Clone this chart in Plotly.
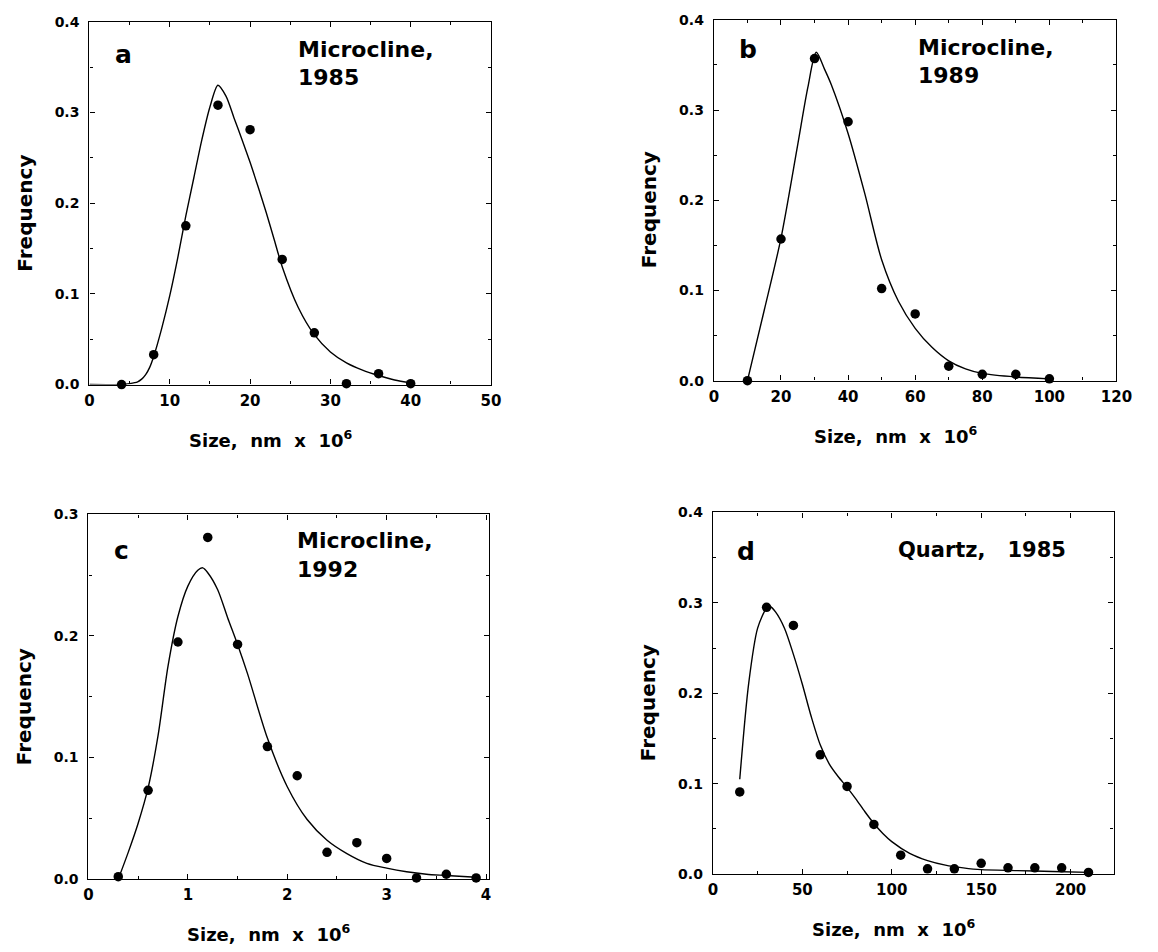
import plotly.graph_objects as go

W, H = 1158, 952

# ---------------- data ----------------
a_x = [4, 8, 12, 16, 20, 24, 28, 32, 36, 40]
a_y = [0.0, 0.033, 0.175, 0.308, 0.281, 0.138, 0.057, 0.001, 0.012, 0.001]
a_fit_x = [0, 4, 5, 6, 6.5, 7, 7.5, 8, 9, 10, 11, 12, 13, 14, 15, 16, 17, 18, 19, 20, 21, 22, 23, 24, 26, 28, 30, 32, 34, 36, 38, 40]
a_fit_y = [0.0, 0.0, 0.001, 0.003, 0.006, 0.011, 0.019, 0.031, 0.062, 0.098, 0.140, 0.186, 0.228, 0.270, 0.306, 0.330, 0.318, 0.294, 0.270, 0.245, 0.218, 0.190, 0.160, 0.130, 0.085, 0.055, 0.036, 0.024, 0.016, 0.010, 0.005, 0.002]

b_x = [10, 20, 30, 40, 50, 60, 70, 80, 90, 100]
b_y = [0.0, 0.157, 0.357, 0.287, 0.102, 0.074, 0.016, 0.007, 0.007, 0.002]
b_fit_x = [10, 15, 20, 25, 28, 30.5, 33, 35, 40, 45, 50, 55, 60, 65, 70, 75, 80, 90, 100]
b_fit_y = [0.0, 0.078, 0.158, 0.262, 0.325, 0.364, 0.345, 0.328, 0.274, 0.207, 0.134, 0.088, 0.058, 0.037, 0.022, 0.013, 0.008, 0.004, 0.002]

c_x = [0.3, 0.6, 0.9, 1.2, 1.5, 1.8, 2.1, 2.4, 2.7, 3.0, 3.3, 3.6, 3.9]
c_y = [0.002, 0.073, 0.195, 0.281, 0.193, 0.109, 0.085, 0.022, 0.030, 0.017, 0.001, 0.004, 0.001]
c_fit_x = [0.3, 0.4, 0.5, 0.6, 0.7, 0.8, 0.9, 1.0, 1.1, 1.15, 1.2, 1.3, 1.4, 1.5, 1.6, 1.8, 2.0, 2.2, 2.4, 2.6, 2.8, 3.0, 3.2, 3.4, 3.6, 3.9]
c_fit_y = [0.0, 0.022, 0.046, 0.075, 0.118, 0.175, 0.216, 0.241, 0.254, 0.256, 0.252, 0.238, 0.215, 0.193, 0.169, 0.116, 0.076, 0.049, 0.032, 0.021, 0.013, 0.009, 0.006, 0.004, 0.003, 0.0015]

d_x = [15, 30, 45, 60, 75, 90, 105, 120, 135, 150, 165, 180, 195, 210]
d_y = [0.091, 0.295, 0.275, 0.132, 0.097, 0.055, 0.021, 0.006, 0.006, 0.012, 0.007, 0.007, 0.007, 0.002]
d_fit_x = [15, 20, 25, 30, 32, 35, 40, 45, 50, 55, 60, 65, 70, 75, 80, 85, 90, 95, 100, 110, 120, 130, 140, 150, 170, 190, 210]
d_fit_y = [0.105, 0.211, 0.272, 0.294, 0.296, 0.290, 0.272, 0.243, 0.210, 0.174, 0.143, 0.122, 0.108, 0.096, 0.083, 0.069, 0.056, 0.045, 0.036, 0.023, 0.015, 0.010, 0.007, 0.005, 0.004, 0.003, 0.002]

x_ranges = [[0, 50], [0, 120], [0, 4.03], [0, 224]]
y_ranges = [[0, 0.4], [0, 0.4], [0, 0.3], [0, 0.4]]
x_dticks = [10, 20, 1, 50]
panel_letters = ["a", "b", "c", "d"]
panel_titles = [["Microcline,", "1985"], ["Microcline,", "1989"], ["Microcline,", "1992"], ["Quartz,   1985"]]
x_title = "Size,  nm  x  10<sup>6</sup>"
y_title = "Frequency"

# ---------------- layout geometry (pixels) ----------------
boxes = [  # left, right, top, bottom
    (86, 495, 14, 383),
    (722, 1132, 12, 379),
    (85, 493, 515, 886),
    (721, 1129, 513, 881),
]
letter_off = [(24, 33), (24, 30), (24, 37), (22, 40)]   # (dx, dy) from top-left of plot
title_off = [(210, 28), (206, 28), (210, 27), (186, 38)]

def px(x):
    return x / W

def py(y):
    return 1 - y / H

FONT = "DejaVu Sans, Liberation Sans, Arial, sans-serif"

fig = go.Figure()
series = [(a_x, a_y, a_fit_x, a_fit_y), (b_x, b_y, b_fit_x, b_fit_y),
          (c_x, c_y, c_fit_x, c_fit_y), (d_x, d_y, d_fit_x, d_fit_y)]

for i, (sx, sy, fx, fy) in enumerate(series):
    ax = "" if i == 0 else str(i + 1)
    fig.add_trace(go.Scatter(x=fx, y=fy, mode="lines", line=dict(color="black", width=1.4, shape="spline", smoothing=0.8),
                             xaxis="x" + ax, yaxis="y" + ax, showlegend=False, hoverinfo="skip"))
    fig.add_trace(go.Scatter(x=sx, y=sy, mode="markers", marker=dict(color="black", size=9.5),
                             xaxis="x" + ax, yaxis="y" + ax, showlegend=False, cliponaxis=False))

annotations = []
for i in range(4):
    l, r, t, b = boxes[i]
    ax = "" if i == 0 else str(i + 1)
    common = dict(showline=True, linecolor="black", linewidth=1.4, mirror="ticks",
                  ticks="inside", ticklen=5, tickwidth=1.2, tickcolor="black",
                  showgrid=False, zeroline=False, fixedrange=True)
    fig.layout["xaxis" + ax] = dict(domain=[px(l), px(r)], range=x_ranges[i], anchor="y" + ax,
                                    dtick=x_dticks[i], tick0=0, ticklabelstandoff=2,
                                    tickfont=dict(family=FONT, size=15, color="black", weight="bold"),
                                    minor=dict(dtick=x_dticks[i] / 2, ticks="inside", ticklen=3, tickcolor="black"),
                                    **common)
    fig.layout["yaxis" + ax] = dict(domain=[py(b), py(t)], range=y_ranges[i], anchor="x" + ax,
                                    dtick=0.1, tick0=0, tickformat=".1f", ticklabelstandoff=6,
                                    tickfont=dict(family=FONT, size=14, color="black", weight="bold"),
                                    minor=dict(dtick=0.05, ticks="inside", ticklen=3, tickcolor="black"),
                                    **common)
    cx = (l + r) / 2 - 20
    # x title
    annotations.append(dict(text=x_title, xref="paper", yref="paper", x=px(cx), y=py(b + 55),
                            showarrow=False, xanchor="center", yanchor="middle",
                            font=dict(family=FONT, size=18, color="black", weight="bold")))
    # y title
    annotations.append(dict(text=y_title, xref="paper", yref="paper", x=px(l - 66), y=py((t + b) / 2 + 10),
                            showarrow=False, textangle=-90, xanchor="center", yanchor="middle",
                            font=dict(family=FONT, size=20, color="black", weight="bold")))
    # panel letter
    dx, dy = letter_off[i]
    annotations.append(dict(text=panel_letters[i], xref="paper", yref="paper", x=px(l + dx), y=py(t + dy),
                            showarrow=False, xanchor="left", yanchor="middle",
                            font=dict(family=FONT, size=25, color="black", weight="bold")))
    # panel title
    lines = panel_titles[i]
    tx, ty = title_off[i]
    fs = 22 if len(lines) == 2 else 21
    for k, line in enumerate(lines):
        annotations.append(dict(text=line, xref="paper", yref="paper", x=px(l + tx), y=py(t + ty + 29 * k),
                                showarrow=False, xanchor="left", yanchor="middle",
                                font=dict(family=FONT, size=fs, color="black", weight="bold")))

fig.update_layout(width=W, height=H, margin=dict(l=0, r=0, t=0, b=0),
                  paper_bgcolor="white", plot_bgcolor="white",
                  annotations=annotations, showlegend=False)

fig.write_html("out.html", config={"displayModeBar": False})
